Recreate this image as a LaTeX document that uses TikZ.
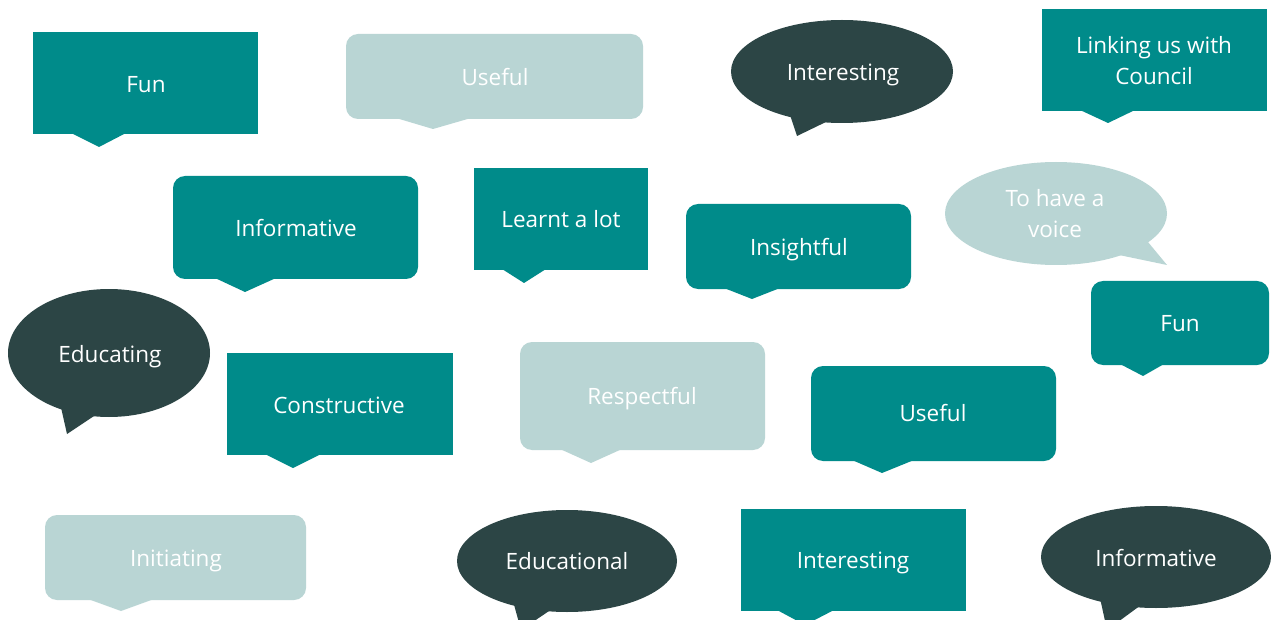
\documentclass[tikz,border=0pt]{standalone}
\usepackage{fontspec}
\setmainfont{Open Sans}
\definecolor{tl}{HTML}{008B8A}
\definecolor{pl}{HTML}{B9D5D4}
\definecolor{dk}{HTML}{2C4545}
\begin{document}
\begin{tikzpicture}[x=1pt, y=-1pt,
                    every node/.style = {text=white, align=center, text depth=0pt, font=\fontsize{22.5}{31}\selectfont},
                    tealfill/.style = {fill=tl},
                    palefill/.style = {fill=pl},
                    darkfill/.style = {fill=dk},
                    rbox/.style = {rounded corners=12pt}]
                \useasboundingbox (0,0) rectangle (1271,620);
                \fill[white] (0,0) rectangle (1271,620);
                % top row
                \fill[tealfill] (33,32) rectangle (258,134);
                \fill[tealfill] (71,133) -- (99,147) -- (126,133) -- cycle;
                \node (fun1) at (146,84) {Fun};
                \fill[palefill, rbox] (346,34) rectangle (643,119);
                \fill[palefill] (396,118) -- (433,129) -- (471,118) -- cycle;
                \node (useful1) at (495,77) {Useful};
                \fill[darkfill] (842,71.5) ellipse [x radius=111pt, y radius=51.5pt];
                \fill[darkfill] (789,112) -- (797,136) -- (828,121) -- cycle;
                \node (interesting1) at (843,72) {Interesting};
                \fill[tealfill] (1042,9) rectangle (1267,111);
                \fill[tealfill] (1080,110) -- (1108,123) -- (1135,110) -- cycle;
                \node (linking) at (1154,60) {Linking us with\\Council};
                % second row
                \fill[tealfill, rbox] (173,176) rectangle (418,279);
                \fill[tealfill] (215,278) -- (245,292) -- (276,278) -- cycle;
                \node (informative1) at (296,228) {Informative};
                \fill[tealfill] (474,168) rectangle (648,270);
                \fill[tealfill] (502,269) -- (524,283) -- (546,269) -- cycle;
                \node (learnt) at (561,219) {Learnt a lot};
                \fill[tealfill, rbox] (686,204) rectangle (911,289);
                \fill[tealfill] (724,288) -- (752,299) -- (780,288) -- cycle;
                \node (insightful) at (799,247) {Insightful};
                \fill[palefill] (1056,213.5) ellipse [x radius=111pt, y radius=51.5pt];
                \fill[palefill] (1143,236) -- (1167,265) -- (1119,255) -- cycle;
                \node (voice) at (1055,213) {To have a\\voice};
                % third row
                \fill[darkfill] (109,353) ellipse [x radius=101pt, y radius=64pt];
                \fill[darkfill] (60,403) -- (67,434) -- (97,414) -- cycle;
                \node (educating) at (110,354) {Educating};
                \fill[tealfill] (227,353) rectangle (453,455);
                \fill[tealfill] (265,454) -- (293,468) -- (321,454) -- cycle;
                \node (constructive) at (339,405) {Constructive};
                \fill[palefill, rbox] (520,342) rectangle (765,450);
                \fill[palefill] (560,449) -- (591,463) -- (622,449) -- cycle;
                \node (respectful) at (642,396) {Respectful};
                \fill[tealfill, rbox] (1091,281) rectangle (1269,365);
                \fill[tealfill] (1120,364) -- (1143,376) -- (1164,364) -- cycle;
                \node (fun2) at (1180,323) {Fun};
                \fill[tealfill, rbox] (811,366) rectangle (1056,461);
                \fill[tealfill] (852,460) -- (882,473) -- (914,460) -- cycle;
                \node (useful2) at (933,413) {Useful};
                % bottom row
                \fill[palefill, rbox] (45,515) rectangle (306,600);
                \fill[palefill] (88,599) -- (121,611) -- (154,599) -- cycle;
                \node (initiating) at (176,558) {Initiating};
                \fill[darkfill] (567,561) ellipse [x radius=110pt, y radius=51pt];
                \fill[darkfill] (513,601) -- (521,630) -- (552,609) -- cycle;
                \node (educational) at (567,561) {Educational};
                \fill[tealfill] (741,509) rectangle (966,611);
                \fill[tealfill] (777,610) -- (805,625) -- (834,610) -- cycle;
                \node (interesting2) at (853,560) {Interesting};
                \fill[darkfill] (1156,557) ellipse [x radius=115pt, y radius=51pt];
                \fill[darkfill] (1100,598) -- (1107,630) -- (1141,605) -- cycle;
                \node (informative2) at (1156,558) {Informative};
            \end{tikzpicture}
\end{document}
